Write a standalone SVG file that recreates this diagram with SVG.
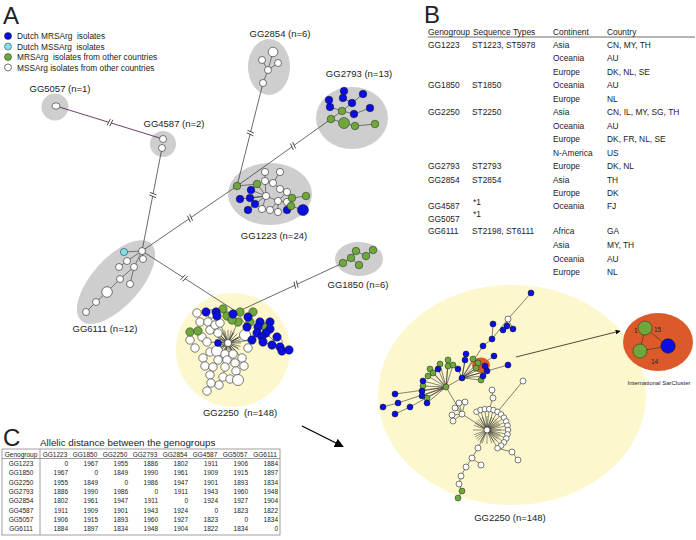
<svg xmlns="http://www.w3.org/2000/svg" width="696" height="540" viewBox="0 0 696 540">
<defs>
<style>
text{font-family:"Liberation Sans",Arial,sans-serif;fill:#222}
.lbl{font-size:9.5px;text-anchor:middle}
.pl{font-size:24px}
.leg{font-size:8.3px}
.tb{font-size:8.4px}
.tcm{font-size:6.5px;text-anchor:middle}
.tcr{font-size:6.5px;text-anchor:end}
.b{fill:#0a0fe0;stroke:#111;stroke-width:0.5}
.g{fill:#6fa83a;stroke:#222;stroke-width:0.5}
.w{fill:#fff;stroke:#222;stroke-width:0.6}
.c{fill:#7fe1ec;stroke:#222;stroke-width:0.5}
.e{stroke:#333;stroke-width:0.6;fill:none}
.gr{fill:#cecece}
.ye{fill:#fcf7cc}
.ln{stroke:#444;stroke-width:0.8;fill:none}
.brk line{stroke:#333;stroke-width:0.8}
</style>
<marker id="ah" viewBox="0 0 10 10" refX="9" refY="5" markerWidth="7" markerHeight="7" orient="auto"><path d="M0,0 L10,5 L0,10 z" fill="#000"/></marker>
<g id="bm" class="brk"><rect x="-1.3" y="-1.2" width="2.6" height="2.4" fill="#fff"/><line x1="-2" y1="3.5" x2="-0.7" y2="-3.5"/><line x1="0.7" y1="3.5" x2="2" y2="-3.5"/></g>
</defs>
<rect width="696" height="540" fill="#fff"/>

<text class="pl" x="3" y="24">A</text>
<text class="pl" x="424" y="23">B</text>
<text class="pl" x="3" y="446">C</text>

<g id="legend">
<circle class="b" cx="8" cy="36" r="3.5"/>
<circle class="c" cx="8" cy="46.5" r="3.5"/>
<circle class="g" cx="8" cy="57" r="3.5"/>
<circle class="w" cx="8" cy="67.5" r="3.5"/>
<text class="leg" x="17" y="39" xml:space="preserve">Dutch MRSArg  isolates</text>
<text class="leg" x="17" y="49.5" xml:space="preserve">Dutch MSSArg  isolates</text>
<text class="leg" x="17" y="60" xml:space="preserve">MRSArg  isolates from other countries</text>
<text class="leg" x="17" y="70.5">MSSArg isolates from other countries</text>
</g>

<!-- cluster backgrounds -->
<circle class="gr" cx="55" cy="107" r="13.5"/>
<circle class="gr" cx="163" cy="144" r="13"/>
<ellipse class="gr" cx="116" cy="282" rx="52" ry="24" transform="rotate(-48 116 282)"/>
<ellipse class="gr" cx="270" cy="194" rx="42" ry="31"/>
<ellipse class="gr" cx="269" cy="67" rx="21" ry="28"/>
<ellipse class="gr" cx="352" cy="118" rx="36" ry="31"/>
<ellipse class="gr" cx="359" cy="259" rx="24" ry="17"/>
<circle class="ye" cx="233" cy="350" r="57"/>
<ellipse class="ye" cx="512" cy="395" rx="134" ry="110"/>

<g id="connectors">
<line x1="56" y1="106" x2="163" y2="139" stroke="#5a2a58" stroke-width="0.9"/>
<line class="ln" x1="162" y1="148" x2="142" y2="251"/>
<line class="ln" x1="142" y1="251" x2="237" y2="186"/>
<line class="ln" x1="237" y1="186" x2="331" y2="119"/>
<line class="ln" x1="237" y1="186" x2="263" y2="83"/>
<line class="ln" x1="142" y1="251" x2="237" y2="312"/>
<line class="ln" x1="237" y1="312" x2="343" y2="263"/>
<use href="#bm" transform="translate(110 122.6) rotate(17)"/>
<use href="#bm" transform="translate(153 195) rotate(101)"/>
<use href="#bm" transform="translate(190 218.2) rotate(-34)"/>
<use href="#bm" transform="translate(293 146) rotate(-35.5)"/>
<use href="#bm" transform="translate(250.4 133) rotate(-76)"/>
<use href="#bm" transform="translate(184 278) rotate(33)"/>
<use href="#bm" transform="translate(296 284.7) rotate(-25)"/>
<line x1="302" y1="426" x2="343" y2="446.5" stroke="#000" stroke-width="1.3" marker-end="url(#ah)"/>
<line x1="516" y1="357" x2="620" y2="331" stroke="#000" stroke-width="0.7" marker-end="url(#ah)"/>
</g>

<g id="n-gg5057">
<ellipse class="w" cx="56" cy="106" rx="4" ry="3.2"/>
<text class="lbl" x="60" y="92">GG5057 (n=1)</text>
</g>

<g id="n-gg4587">
<circle class="w" cx="163" cy="139" r="3.5"/>
<circle class="w" cx="162" cy="148" r="3.5"/>
<text class="lbl" x="174" y="127">GG4587 (n=2)</text>
</g>

<g id="n-gg6111">
<path class="e" d="M142,251L124,252M142,251L143,259M142,251L127,261M142,251L134,267M127,261L119,267M134,267L120,279M134,267L130,284M120,279L107,292L96,302L86,312"/>
<circle class="c" cx="124" cy="252" r="3.6"/>
<circle class="w" cx="142" cy="251" r="3.5"/>
<circle class="w" cx="143" cy="259" r="3.5"/>
<circle class="w" cx="127" cy="261" r="3.5"/>
<circle class="w" cx="119" cy="267" r="3.5"/>
<circle class="w" cx="134" cy="267" r="3.5"/>
<circle class="w" cx="120" cy="279" r="3.5"/>
<circle class="w" cx="130" cy="284" r="3.5"/>
<circle class="w" cx="107" cy="292" r="5.3"/>
<circle class="w" cx="96" cy="302" r="3.5"/>
<circle class="w" cx="86" cy="312" r="3.5"/>
<text class="lbl" x="105" y="332">GG6111 (n=12)</text>
</g>

<g id="n-gg1223">
<path class="e" d="M237,186L257,184L266,196M266,196L251,190M266,196L240,199M266,196L250,198M266,196L255,204L248,210M266,196L262,209M266,196L265,181L265,172M265,181L273,183L280,172M273,183L280,189M266,196L278,201L287,192M278,201L270,210M278,201L278,212M278,201L287,202L292,198L306,196M287,202L291,206L287,210M291,206L303,210"/>
<circle class="g" cx="237" cy="186" r="3.8"/>
<circle class="g" cx="257" cy="184" r="3.8"/>
<circle class="w" cx="265" cy="172" r="3.6"/>
<circle class="w" cx="280" cy="172" r="3.6"/>
<circle class="w" cx="265" cy="181" r="3.6"/>
<circle class="w" cx="273" cy="183" r="3.6"/>
<circle class="w" cx="280" cy="189" r="3.6"/>
<circle class="w" cx="287" cy="192" r="3.6"/>
<circle class="w" cx="266" cy="196" r="3.6"/>
<circle class="w" cx="278" cy="201" r="3.6"/>
<circle class="w" cx="262" cy="209" r="3.6"/>
<circle class="w" cx="270" cy="210" r="3.6"/>
<circle class="w" cx="278" cy="212" r="3.6"/>
<circle class="w" cx="287" cy="202" r="3.6"/>
<circle class="b" cx="251" cy="190" r="3.8"/>
<circle class="b" cx="240" cy="199" r="3.8"/>
<circle class="b" cx="250" cy="198" r="3.8"/>
<circle class="b" cx="255" cy="204" r="3.8"/>
<circle class="b" cx="248" cy="210" r="3.8"/>
<circle class="b" cx="287" cy="210" r="3.8"/>
<circle class="g" cx="292" cy="198" r="3.8"/>
<circle class="g" cx="306" cy="196" r="3.8"/>
<circle class="g" cx="291" cy="206" r="3.8"/>
<circle class="b" cx="303" cy="210" r="5.5"/>
<text class="lbl" x="274" y="239">GG1223 (n=24)</text>
</g>

<g id="n-gg2854">
<path class="e" d="M268,70L273,52M268,70L262,60M268,70L278,63M268,70L263,83"/>
<circle class="w" cx="273" cy="52" r="4.8"/>
<circle class="w" cx="262" cy="60" r="3.5"/>
<circle class="w" cx="278" cy="63" r="3.5"/>
<circle class="w" cx="268" cy="70" r="3.5"/>
<circle class="w" cx="263" cy="83" r="3.5"/>
<text class="lbl" x="280" y="37">GG2854 (n=6)</text>
</g>

<g id="n-gg2793">
<path class="e" d="M331,119L342,111L352,103L343,98L344,91M352,103L363,94M342,111L330,107L329,100M342,111L354,114L370,108M331,119L344,123L355,126L375,124"/>
<circle class="b" cx="344" cy="91" r="3.8"/>
<circle class="b" cx="363" cy="94" r="3.8"/>
<circle class="b" cx="329" cy="100" r="3.8"/>
<circle class="b" cx="343" cy="98" r="3.8"/>
<circle class="b" cx="352" cy="103" r="3.8"/>
<circle class="b" cx="330" cy="107" r="3.8"/>
<circle class="b" cx="354" cy="114" r="3.8"/>
<circle class="b" cx="370" cy="108" r="3.8"/>
<circle class="g" cx="342" cy="111" r="3.8"/>
<circle class="g" cx="331" cy="119" r="3.8"/>
<circle class="g" cx="344" cy="123" r="5.5"/>
<circle class="g" cx="355" cy="126" r="3.8"/>
<circle class="g" cx="375" cy="124" r="3.8"/>
<text class="lbl" x="359" y="77">GG2793 (n=13)</text>
</g>

<g id="n-gg1850">
<path class="e" d="M343,263L351,258L359,265M351,258L356,251L366,256L373,250"/>
<circle class="g" cx="343" cy="263" r="3.8"/>
<circle class="g" cx="351" cy="258" r="3.8"/>
<circle class="g" cx="359" cy="265" r="3.8"/>
<circle class="g" cx="356" cy="251" r="3.8"/>
<circle class="g" cx="366" cy="256" r="3.8"/>
<circle class="g" cx="373" cy="250" r="3.8"/>
<text class="lbl" x="358" y="288">GG1850 (n=6)</text>
</g>

<g id="n-gg2250">
<path class="e" d="M228,343L245,335M228,343L217,351M228,343L218,333M228,343L238,322M228,343L225,354M228,343L233,354M228,343L242,358M228,343L207,342M228,343L210,330M228,343L220,323M228,343L252,340M237,312L247,327M237,312L227,316M218,360L213,367L210,375L211,383L207,391M227,360L225,367L223,377M235,363L236,371L238,380M266,333L280,347M263,342L289,350"/>
<g stroke="#111" stroke-width="0.5">
<path d="M228,343l13,0M228,343l12.5,3.4M228,343l11.3,6.5M228,343l9.2,9.2M228,343l6.5,11.3M228,343l3.4,12.5M228,343l0,13M228,343l-3.4,12.5M228,343l-6.5,11.3M228,343l-9.2,9.2M228,343l-11.3,6.5M228,343l-12.5,3.4M228,343l-13,0M228,343l-12.5,-3.4M228,343l-11.3,-6.5M228,343l-9.2,-9.2M228,343l-6.5,-11.3M228,343l-3.4,-12.5M228,343l0,-13M228,343l3.4,-12.5M228,343l6.5,-11.3M228,343l9.2,-9.2M228,343l11.3,-6.5M228,343l12.5,-3.4"/>
<path d="M228,343l10,5M228,343l5,10M228,343l-5,10M228,343l-10,5M228,343l-10,-5M228,343l-5,-10M228,343l5,-10M228,343l10,-5"/>
</g>
<circle class="w" cx="197" cy="313" r="4.2"/>
<circle class="w" cx="200" cy="322" r="4.2"/>
<circle class="w" cx="212" cy="314" r="4.2"/>
<circle class="w" cx="208" cy="322" r="4.2"/>
<circle class="w" cx="210" cy="330" r="4.2"/>
<circle class="w" cx="215" cy="325" r="4.2"/>
<circle class="w" cx="220" cy="323" r="4.2"/>
<circle class="w" cx="190" cy="340" r="4.2"/>
<circle class="w" cx="202" cy="337" r="4.2"/>
<circle class="w" cx="218" cy="333" r="4.2"/>
<circle class="w" cx="195" cy="348" r="4.2"/>
<circle class="w" cx="207" cy="342" r="4.2"/>
<circle class="w" cx="210" cy="352" r="4.2"/>
<circle class="w" cx="203" cy="358" r="4.2"/>
<circle class="w" cx="217" cy="351" r="5.5"/>
<circle class="w" cx="225" cy="354" r="4.2"/>
<circle class="w" cx="233" cy="354" r="4.2"/>
<circle class="w" cx="242" cy="358" r="4.2"/>
<circle class="w" cx="244" cy="366" r="4.2"/>
<circle class="w" cx="248" cy="348" r="4.2"/>
<circle class="w" cx="218" cy="360" r="4.2"/>
<circle class="w" cx="227" cy="360" r="4.2"/>
<circle class="w" cx="235" cy="363" r="4.2"/>
<circle class="w" cx="205" cy="366" r="4.2"/>
<circle class="w" cx="213" cy="367" r="4.2"/>
<circle class="w" cx="225" cy="367" r="4.2"/>
<circle class="w" cx="236" cy="371" r="4.2"/>
<circle class="w" cx="210" cy="375" r="4.2"/>
<circle class="w" cx="223" cy="377" r="4.2"/>
<circle class="w" cx="230" cy="379" r="4.2"/>
<circle class="w" cx="238" cy="380" r="5.5"/>
<circle class="w" cx="219" cy="385" r="4.2"/>
<circle class="w" cx="211" cy="383" r="4.2"/>
<circle class="w" cx="207" cy="391" r="4.2"/>
<circle class="w" cx="245" cy="335" r="5.5"/>
<circle class="w" cx="278" cy="342" r="4.2"/>
<circle class="g" cx="223" cy="309" r="4.2"/>
<circle class="g" cx="227" cy="316" r="4.2"/>
<circle class="g" cx="240" cy="312" r="4.2"/>
<circle class="g" cx="253" cy="312" r="4.2"/>
<circle class="g" cx="238" cy="322" r="4.2"/>
<circle class="g" cx="250" cy="322" r="4.2"/>
<circle class="g" cx="265" cy="327" r="4.2"/>
<circle class="g" cx="190" cy="332" r="4.2"/>
<circle class="g" cx="198" cy="331" r="4.2"/>
<circle class="g" cx="232" cy="320" r="4.2"/>
<circle class="b" cx="206" cy="312" r="4.2"/>
<circle class="b" cx="216" cy="312" r="4.2"/>
<circle class="b" cx="217" cy="316" r="4.2"/>
<circle class="b" cx="233" cy="314" r="4.2"/>
<circle class="b" cx="248" cy="317" r="4.2"/>
<circle class="b" cx="247" cy="327" r="4.2"/>
<circle class="b" cx="260" cy="322" r="4.2"/>
<circle class="b" cx="270" cy="322" r="4.2"/>
<circle class="b" cx="258" cy="327" r="4.2"/>
<circle class="b" cx="270" cy="329" r="4.2"/>
<circle class="b" cx="266" cy="333" r="4.2"/>
<circle class="b" cx="257" cy="333" r="4.2"/>
<circle class="b" cx="262" cy="337" r="4.2"/>
<circle class="b" cx="252" cy="340" r="4.2"/>
<circle class="b" cx="263" cy="342" r="4.2"/>
<circle class="b" cx="277" cy="337" r="4.2"/>
<circle class="b" cx="272" cy="345" r="4.2"/>
<circle class="b" cx="280" cy="347" r="4.2"/>
<circle class="b" cx="282" cy="351" r="4.2"/>
<circle class="b" cx="289" cy="350" r="4.2"/>
<circle class="b" cx="218" cy="343" r="3.5"/>
<circle class="w" cx="228" cy="343" r="3.5"/>
<text class="lbl" x="240" y="416" xml:space="preserve">GG2250  (n=148)</text>
</g>

<g id="n-gg2250-detail">
<path class="e" d="M531,293L508,319L492,339L483,346L462,378M508,319L507,326M508,319L513,329M508,319L503,330M492,339L493,324M462,378L466,354M462,378L465,360M462,378L473,359M462,378L478,363M462,378L476,368M462,378L485,366M462,378L494,356M462,378L508,365M462,378L487,371M462,378L483,376M462,378L481,380M462,378L458,369M462,378L446,387M446,387L448,360M446,387L440,364M446,387L448,366M446,387L453,365M446,387L438,369M446,387L430,369M446,387L433,373M446,387L428,376M446,387L423,381M446,387L423,386M446,387L422,391M446,387L422,396M446,387L427,398M446,387L427,403M446,387L395,394M446,387L398,403L383,407M446,387L410,407L395,414M446,387L462,414M462,414L455,408M462,414L459,403M462,414L465,402M462,414L452,415M462,414L453,421M462,414L487,430M523,381L497.5,411.8M492,390L493,398L489.2,409.1M487,430L478,448L472,458L466,467L461,476L459,484L462,491L458,498M472,458L481,465M497.5,448.2L512,452L518,460"/>
<g stroke="#111" stroke-width="0.45">
<path d="M487,430L476.5,411.8M487,430L480.5,410M487,430L484.8,409.1M487,430L489.2,409.1M487,430L493.5,410M487,430L497.5,411.8M487,430L501.1,414.4M487,430L504,417.7M487,430L506.2,421.5M487,430L507.5,425.6M487,430L508,430M487,430L507.5,434.4M487,430L506.2,438.5M487,430L504,442.3M487,430L501.1,445.6M487,430L497.5,448.2"/>
<path d="M487,430l14,0M487,430l13.2,4.8M487,430l12.1,7M487,430l10.7,9M487,430l9,10.7M487,430l7,12.1M487,430l4.8,13.2M487,430l0,14M487,430l-4.8,13.2M487,430l-7,12.1M487,430l-9,10.7M487,430l-10.7,9M487,430l-12.1,7M487,430l-13.2,4.8M487,430l-14,0M487,430l-13.2,-4.8M487,430l-12.1,-7M487,430l-10.7,-9M487,430l-9,-10.7M487,430l-7,-12.1M487,430l-4.8,-13.2M487,430l0,-14M487,430l4.8,-13.2M487,430l7,-12.1M487,430l9,-10.7M487,430l10.7,-9M487,430l12.1,-7M487,430l13.2,-4.8"/>
</g>
<ellipse cx="481" cy="365" rx="9" ry="7.5" fill="#dc5a2a"/>
<g>
<circle class="w" cx="476.5" cy="411.8" r="2.8"/><circle class="w" cx="480.5" cy="410" r="2.8"/><circle class="w" cx="484.8" cy="409.1" r="2.8"/><circle class="w" cx="489.2" cy="409.1" r="2.8"/><circle class="w" cx="493.5" cy="410" r="2.8"/><circle class="w" cx="497.5" cy="411.8" r="2.8"/><circle class="w" cx="501.1" cy="414.4" r="2.8"/><circle class="w" cx="504" cy="417.7" r="2.8"/><circle class="w" cx="506.2" cy="421.5" r="2.8"/><circle class="w" cx="507.5" cy="425.6" r="2.8"/><circle class="w" cx="508" cy="430" r="2.8"/><circle class="w" cx="507.5" cy="434.4" r="2.8"/><circle class="w" cx="506.2" cy="438.5" r="2.8"/><circle class="w" cx="504" cy="442.3" r="2.8"/><circle class="w" cx="501.1" cy="445.6" r="2.8"/><circle class="w" cx="497.5" cy="448.2" r="2.8"/>
<circle class="w" cx="487" cy="430" r="3"/>
<circle class="w" cx="462" cy="414" r="3"/><circle class="w" cx="455" cy="408" r="3"/><circle class="w" cx="459" cy="403" r="3"/><circle class="w" cx="465" cy="402" r="3"/><circle class="w" cx="452" cy="415" r="3"/><circle class="w" cx="453" cy="421" r="3"/>
<circle class="w" cx="478" cy="448" r="3"/><circle class="w" cx="472" cy="458" r="3"/><circle class="w" cx="481" cy="465" r="3"/><circle class="w" cx="466" cy="467" r="3"/><circle class="w" cx="461" cy="476" r="3"/><circle class="w" cx="459" cy="484" r="3"/>
<circle class="w" cx="512" cy="452" r="3"/><circle class="w" cx="518" cy="460" r="3"/>
<circle class="w" cx="508" cy="319" r="3"/><circle class="w" cx="523" cy="381" r="3"/><circle class="w" cx="492" cy="390" r="3"/><circle class="w" cx="493" cy="398" r="3"/>
</g>
<circle class="g" cx="462" cy="491" r="3"/><circle class="g" cx="458" cy="498" r="3"/>
<circle class="g" cx="473" cy="359" r="3"/><circle class="g" cx="478" cy="363" r="3"/><circle class="g" cx="476" cy="368" r="3"/><circle class="g" cx="481" cy="380" r="3"/>
<circle class="g" cx="448" cy="360" r="3"/><circle class="g" cx="440" cy="364" r="3"/><circle class="g" cx="448" cy="366" r="3"/><circle class="g" cx="453" cy="365" r="3"/><circle class="g" cx="430" cy="369" r="3"/><circle class="g" cx="433" cy="373" r="3"/><circle class="g" cx="428" cy="376" r="3"/><circle class="g" cx="423" cy="386" r="3"/><circle class="g" cx="446" cy="387" r="3"/><circle class="g" cx="427" cy="398" r="3"/>
<circle class="b" cx="531" cy="293" r="3"/><circle class="b" cx="493" cy="324" r="3"/><circle class="b" cx="507" cy="326" r="3"/><circle class="b" cx="513" cy="329" r="3"/><circle class="b" cx="503" cy="330" r="3"/><circle class="b" cx="492" cy="339" r="3"/><circle class="b" cx="483" cy="346" r="3"/><circle class="b" cx="466" cy="354" r="3"/><circle class="b" cx="494" cy="356" r="3"/><circle class="b" cx="465" cy="360" r="3"/><circle class="b" cx="485" cy="366" r="3"/><circle class="b" cx="487" cy="371" r="3"/><circle class="b" cx="508" cy="365" r="3"/><circle class="b" cx="483" cy="376" r="3"/><circle class="b" cx="462" cy="378" r="3"/><circle class="b" cx="458" cy="369" r="3"/><circle class="b" cx="438" cy="369" r="3"/><circle class="b" cx="423" cy="381" r="3"/><circle class="b" cx="422" cy="391" r="3"/><circle class="b" cx="422" cy="396" r="3"/><circle class="b" cx="427" cy="403" r="3"/><circle class="b" cx="395" cy="394" r="3"/><circle class="b" cx="398" cy="403" r="3"/><circle class="b" cx="383" cy="407" r="3"/><circle class="b" cx="410" cy="407" r="3"/><circle class="b" cx="395" cy="414" r="3"/>
<text class="lbl" x="510" y="521">GG2250 (n=148)</text>
</g>

<g id="n-sarcluster">
<ellipse cx="658" cy="342" rx="35" ry="29" fill="#dc5a2a"/>
<path class="e" d="M645,328L640,351L668,346L645,328"/>
<circle class="g" cx="645" cy="328" r="7"/>
<circle class="g" cx="640" cy="351" r="7"/>
<circle class="b" cx="668" cy="346" r="7.2"/>
<text x="634" y="333" style="font-size:6.5px">1</text>
<text x="654" y="332" style="font-size:6.5px">15</text>
<text x="651" y="364" style="font-size:6.5px">14</text>
<text x="659" y="385" style="font-size:6px;text-anchor:middle">International SarCluster</text>
</g>

<g id="table-b">
<line x1="428" y1="37" x2="695" y2="37" stroke="#444" stroke-width="0.8"/>
<text class="tb" x="428" y="34.5">Genogroup</text><text class="tb" x="473" y="34.5">Sequence Types</text><text class="tb" x="553" y="34.5">Continent</text><text class="tb" x="607" y="34.5">Country</text>
<text class="tb" x="428" y="47.5">GG1223</text><text class="tb" x="472" y="47.5">ST1223, ST5978</text><text class="tb" x="553" y="47.5">Asia</text><text class="tb" x="607" y="47.5">CN, MY, TH</text>
<text class="tb" x="553" y="61">Oceania</text><text class="tb" x="607" y="61">AU</text>
<text class="tb" x="553" y="74.5">Europe</text><text class="tb" x="607" y="74.5">DK, NL, SE</text>
<text class="tb" x="428" y="88">GG1850</text><text class="tb" x="472" y="88">ST1850</text><text class="tb" x="553" y="88">Oceania</text><text class="tb" x="607" y="88">AU</text>
<text class="tb" x="553" y="101.5">Europe</text><text class="tb" x="607" y="101.5">NL</text>
<text class="tb" x="428" y="115">GG2250</text><text class="tb" x="472" y="115">ST2250</text><text class="tb" x="553" y="115">Asia</text><text class="tb" x="607" y="115">CN, IL, MY, SG, TH</text>
<text class="tb" x="553" y="128.5">Oceania</text><text class="tb" x="607" y="128.5">AU</text>
<text class="tb" x="553" y="142">Europe</text><text class="tb" x="607" y="142">DK, FR, NL, SE</text>
<text class="tb" x="553" y="155.5">N-America</text><text class="tb" x="607" y="155.5">US</text>
<text class="tb" x="428" y="169">GG2793</text><text class="tb" x="472" y="169">ST2793</text><text class="tb" x="553" y="169">Europe</text><text class="tb" x="607" y="169">DK, NL</text>
<text class="tb" x="428" y="182.5">GG2854</text><text class="tb" x="472" y="182.5">ST2854</text><text class="tb" x="553" y="182.5">Asia</text><text class="tb" x="607" y="182.5">TH</text>
<text class="tb" x="553" y="196">Europe</text><text class="tb" x="607" y="196">DK</text>
<text class="tb" x="428" y="209">GG4587</text><text class="tb" x="473" y="204.5">*1</text><text class="tb" x="553" y="209">Oceania</text><text class="tb" x="607" y="209">FJ</text>
<text class="tb" x="428" y="221.5">GG5057</text><text class="tb" x="473" y="217">*1</text>
<text class="tb" x="428" y="234">GG6111</text><text class="tb" x="472" y="234">ST2198, ST6111</text><text class="tb" x="553" y="234">Africa</text><text class="tb" x="607" y="234">GA</text>
<text class="tb" x="553" y="248">Asia</text><text class="tb" x="607" y="248">MY, TH</text>
<text class="tb" x="553" y="261.5">Oceania</text><text class="tb" x="607" y="261.5">AU</text>
<text class="tb" x="553" y="275">Europe</text><text class="tb" x="607" y="275">NL</text>
</g>

<g id="table-c">
<text x="40" y="446" style="font-size:9.8px">Allelic distance between the genogroups</text>
<rect x="2" y="449" width="278" height="86" fill="none" stroke="#888" stroke-width="0.8"/>
<line x1="2" y1="458.5" x2="280" y2="458.5" stroke="#888" stroke-width="0.8"/>
<line x1="40" y1="449" x2="40" y2="535" stroke="#888" stroke-width="0.8"/>
<g>
<text class="tcm" x="21" y="456.5">Genogroup</text>
<text class="tcm" x="55" y="456.5">GG1223</text><text class="tcm" x="85" y="456.5">GG1850</text><text class="tcm" x="115" y="456.5">GG2250</text><text class="tcm" x="145" y="456.5">GG2793</text><text class="tcm" x="175" y="456.5">GG2854</text><text class="tcm" x="205" y="456.5">GG4587</text><text class="tcm" x="235" y="456.5">GG5057</text><text class="tcm" x="265" y="456.5">GG6111</text>
<text class="tcm" x="21" y="466">GG1223</text><text class="tcm" x="21" y="475.3">GG1850</text><text class="tcm" x="21" y="484.6">GG2250</text><text class="tcm" x="21" y="494">GG2793</text><text class="tcm" x="21" y="503.3">GG2854</text><text class="tcm" x="21" y="512.6">GG4587</text><text class="tcm" x="21" y="522">GG5057</text><text class="tcm" x="21" y="531.3">GG6111</text>
</g>
<g>
<text class="tcr" x="68" y="466">0</text><text class="tcr" x="98" y="466">1967</text><text class="tcr" x="128" y="466">1955</text><text class="tcr" x="158" y="466">1886</text><text class="tcr" x="188" y="466">1802</text><text class="tcr" x="218" y="466">1911</text><text class="tcr" x="248" y="466">1906</text><text class="tcr" x="278" y="466">1884</text>
<text class="tcr" x="68" y="475.3">1967</text><text class="tcr" x="98" y="475.3">0</text><text class="tcr" x="128" y="475.3">1849</text><text class="tcr" x="158" y="475.3">1990</text><text class="tcr" x="188" y="475.3">1961</text><text class="tcr" x="218" y="475.3">1909</text><text class="tcr" x="248" y="475.3">1915</text><text class="tcr" x="278" y="475.3">1897</text>
<text class="tcr" x="68" y="484.6">1955</text><text class="tcr" x="98" y="484.6">1849</text><text class="tcr" x="128" y="484.6">0</text><text class="tcr" x="158" y="484.6">1986</text><text class="tcr" x="188" y="484.6">1947</text><text class="tcr" x="218" y="484.6">1901</text><text class="tcr" x="248" y="484.6">1893</text><text class="tcr" x="278" y="484.6">1834</text>
<text class="tcr" x="68" y="494">1886</text><text class="tcr" x="98" y="494">1990</text><text class="tcr" x="128" y="494">1986</text><text class="tcr" x="158" y="494">0</text><text class="tcr" x="188" y="494">1911</text><text class="tcr" x="218" y="494">1943</text><text class="tcr" x="248" y="494">1960</text><text class="tcr" x="278" y="494">1948</text>
<text class="tcr" x="68" y="503.3">1802</text><text class="tcr" x="98" y="503.3">1961</text><text class="tcr" x="128" y="503.3">1947</text><text class="tcr" x="158" y="503.3">1911</text><text class="tcr" x="188" y="503.3">0</text><text class="tcr" x="218" y="503.3">1924</text><text class="tcr" x="248" y="503.3">1927</text><text class="tcr" x="278" y="503.3">1904</text>
<text class="tcr" x="68" y="512.6">1911</text><text class="tcr" x="98" y="512.6">1909</text><text class="tcr" x="128" y="512.6">1901</text><text class="tcr" x="158" y="512.6">1943</text><text class="tcr" x="188" y="512.6">1924</text><text class="tcr" x="218" y="512.6">0</text><text class="tcr" x="248" y="512.6">1823</text><text class="tcr" x="278" y="512.6">1822</text>
<text class="tcr" x="68" y="522">1906</text><text class="tcr" x="98" y="522">1915</text><text class="tcr" x="128" y="522">1893</text><text class="tcr" x="158" y="522">1960</text><text class="tcr" x="188" y="522">1927</text><text class="tcr" x="218" y="522">1823</text><text class="tcr" x="248" y="522">0</text><text class="tcr" x="278" y="522">1834</text>
<text class="tcr" x="68" y="531.3">1884</text><text class="tcr" x="98" y="531.3">1897</text><text class="tcr" x="128" y="531.3">1834</text><text class="tcr" x="158" y="531.3">1948</text><text class="tcr" x="188" y="531.3">1904</text><text class="tcr" x="218" y="531.3">1822</text><text class="tcr" x="248" y="531.3">1834</text><text class="tcr" x="278" y="531.3">0</text>
</g>
</g>
</svg>
